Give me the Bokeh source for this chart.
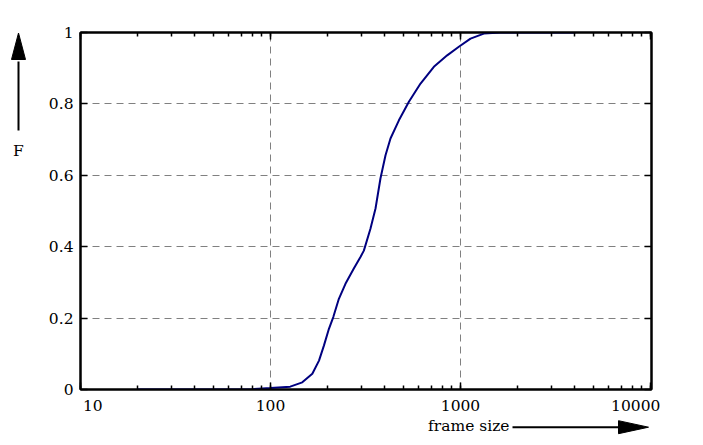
from bokeh.plotting import figure
from bokeh.models import (LogAxis, LinearAxis, LogTicker, FixedTicker, Range1d)
from bokeh.layouts import row, column
from bokeh.core.properties import value
from bokeh.embed import file_html
from bokeh.resources import INLINE

# ---- data ----
frame_size = [20, 50, 80, 100, 127, 147, 166, 180, 191, 203, 214, 229, 248, 274,
              298, 310, 336, 357, 379, 403, 428, 474, 535, 616, 724, 851, 980,
              1129, 1327, 1624, 2500, 4030]
F = [0.0, 0.0, 0.001, 0.004, 0.008, 0.020, 0.044, 0.081, 0.123, 0.170, 0.203,
     0.254, 0.296, 0.338, 0.372, 0.389, 0.451, 0.507, 0.591, 0.656, 0.703, 0.754,
     0.806, 0.857, 0.904, 0.936, 0.960, 0.983, 0.997, 1.0, 1.0, 1.0]
x_ticks = [10, 100, 1000, 10000]
x_tick_labels = ["10", "100", "1000", "10000"]
y_ticks = [0, 0.2, 0.4, 0.6, 0.8, 1]
y_tick_labels = ["0", "0.2", "0.4", "0.6", "0.8", "1"]
x_label = "frame size"
y_label = "F"

FONT = "DejaVu Serif"
FS = "15.5px"
NB = "\u00a0"

# ---------------- main plot ----------------
p = figure(width=664, height=417, x_axis_type="log",
           x_range=Range1d(10, 10120), y_range=Range1d(0, 1),
           output_backend="svg", toolbar_location=None,
           min_border_left=44, min_border_right=49,
           min_border_top=32, min_border_bottom=28)
p.background_fill_color = "white"
p.border_fill_color = "white"
p.outline_line_color = "black"
p.outline_line_width = 2

p.line(frame_size, F, line_color="#000080", line_width=2)

xt = LogTicker(desired_num_ticks=4, num_minor_ticks=10)
yt = FixedTicker(ticks=y_ticks)

xa = p.xaxis[0]
xa.ticker = xt
ov = dict(zip(x_ticks, x_tick_labels))
ov[x_ticks[0]] = NB * 5 + x_tick_labels[0]
ov[x_ticks[-1]] = x_tick_labels[-1] + NB * 6
xa.major_label_overrides = ov
ya = p.yaxis[0]
ya.ticker = yt
ya.major_label_overrides = dict(zip(y_ticks, y_tick_labels))

for ax in (xa, ya):
    ax.major_tick_in = 7
    ax.major_tick_out = 0
    ax.minor_tick_in = 4
    ax.minor_tick_out = 0
    ax.axis_line_color = "black"
    ax.axis_line_width = 2
    ax.major_tick_line_width = 1.5
    ax.minor_tick_line_width = 1.5
    ax.major_label_text_font = FONT
    ax.major_label_text_font_size = FS
    ax.major_label_text_color = "black"
    ax.major_label_standoff = 7
ya.minor_tick_in = 0

top = LogAxis(ticker=xt, major_label_text_font_size="2px",
              major_label_text_color=None,
              major_tick_in=7, major_tick_out=0, minor_tick_in=4, minor_tick_out=0,
              axis_line_color="black", axis_line_width=2,
              major_tick_line_width=1.5, minor_tick_line_width=1.5,
              major_label_standoff=0)
right = LinearAxis(ticker=yt, major_label_text_font_size="2px",
                   major_label_text_color=None,
                   major_tick_in=7, major_tick_out=0, minor_tick_in=0, minor_tick_out=0,
                   axis_line_color="black", axis_line_width=2,
                   major_tick_line_width=1.5, major_label_standoff=0)
p.add_layout(top, "above")
p.add_layout(right, "right")

p.xgrid.ticker = FixedTicker(ticks=x_ticks[1:3])
p.ygrid.ticker = FixedTicker(ticks=y_ticks[1:5])
for g in (p.xgrid, p.ygrid):
    g.grid_line_color = "#808080"
    g.grid_line_dash = "7 5"
    g.grid_line_width = 1


def strip(w, h, y0, y1, top=0, bottom=0):
    f = figure(width=w, height=h, x_range=Range1d(0, w), y_range=Range1d(y1, y0),
               output_backend="svg", toolbar_location=None, min_border=0,
               min_border_top=top, min_border_bottom=bottom,
               x_axis_location=None, y_axis_location=None)
    f.outline_line_color = None
    f.grid.visible = False
    f.background_fill_color = "white"
    f.border_fill_color = "white"
    return f


# ---------------- left strip: "F" with upward arrow ----------------
# its frame is aligned with the main frame (page y 32 .. 389)
LW, LH = 36, 417
ax_x, ax_tip, ax_base, ax_tail, ax_half = 18, 32.5, 59, 130, 7
pl = strip(LW, LH, 32, 389, top=32, bottom=28)
pl.segment(x0=[ax_x], y0=[ax_tail], x1=[ax_x], y1=[ax_base + 2],
           line_color="black", line_width=2)
pl.patch(x=[ax_x - ax_half, ax_x + ax_half, ax_x],
         y=[ax_base, ax_base, ax_tip], color="black")
pl.text(x=[ax_x], y=[150], text=[y_label], text_font=value(FONT),
        text_font_size=value(FS), text_align="center",
        text_baseline="alphabetic", text_color="black")

# ---------------- bottom strip: "frame size" with right arrow ----------------
BW, BH = 700, 25
bx_text, bx_start, bx_base, bx_tip, by, b_half = 509, 512, 618, 648, 9.7, 6.5
pb = strip(BW, BH, 0, BH)
pb.segment(x0=[bx_start], y0=[by], x1=[bx_base + 2], y1=[by],
           line_color="black", line_width=2)
pb.patch(x=[bx_base, bx_base, bx_tip], y=[by - b_half, by + b_half, by],
         color="black")
pb.text(x=[bx_text], y=[8], text=[x_label], text_font=value(FONT),
        text_font_size=value(FS), text_align="right",
        text_baseline="alphabetic", text_color="black")

layout = column(row(pl, p), pb)
open("out.html", "w").write(file_html(layout, INLINE))
